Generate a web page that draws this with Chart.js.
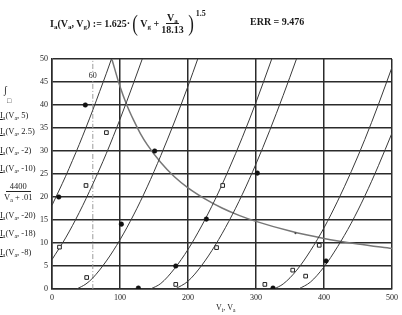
<!DOCTYPE html>
<html>
<head>
<meta charset="utf-8">
<script src="https://cdn.jsdelivr.net/npm/chart.js@4.4.1/dist/chart.umd.min.js"></script>
<style>
  body { margin: 0; background: #fff; }
  #wrap { position: relative; width: 402px; height: 315px; font-family: 'Liberation Serif', serif; color: #1a1a1a; }
  #wrap canvas { position: absolute; left: 0; top: 0; }
  .lbl { position: absolute; left: 0; font-size: 8.5px; white-space: nowrap; line-height: 9px; }
  .lbl .u { text-decoration: underline; }
  sub { font-size: 70%; vertical-align: -2px; line-height: 0; }
  #formula { position: absolute; left: 50px; top: 9px; font-size: 10px; font-weight: bold; white-space: nowrap; display: flex; align-items: center; }
  .frac { display: inline-flex; flex-direction: column; align-items: center; margin: 0 2px; line-height: 11px; }
  .frac .top { border-bottom: 1px solid #222; padding: 0 1px; }
  .paren { font-size: 24px; font-weight: normal; line-height: 28px; margin: 0 1px; transform: scaleX(0.7); }
  #err { position: absolute; left: 250px; top: 16px; font-size: 10px; font-weight: bold; white-space: nowrap; }
  #xtitle { position: absolute; left: 216px; top: 303px; font-size: 8px; white-space: nowrap; }
</style>
</head>
<body>
<div id="wrap">
  <canvas id="tube-chart" width="402" height="315"></canvas>

  <div id="formula">
    <span>I<sub>a</sub>(V<sub>a</sub>, V<sub>g</sub>) := 1.625·</span>
    <span class="paren">(</span>
    <span>V<sub>g</sub> +</span>
    <span class="frac"><span class="top">V<sub>a</sub></span><span>18.13</span></span>
    <span class="paren">)</span>
    <span style="align-self:flex-start;font-size:8px">1.5</span>
  </div>
  <div id="err">ERR = 9.476</div>

  <div class="lbl" style="left:4px;top:85px;font-size:10px">∫</div>
  <div class="lbl" style="left:7px;top:97px;font-size:7px">□</div>
  <div class="lbl" style="top:111px"><span class="u">I<sub>a</sub></span>(V<sub>a</sub>, 5)</div>
  <div class="lbl" style="top:127px"><span class="u">I<sub>a</sub></span>(V<sub>a</sub>, 2.5)</div>
  <div class="lbl" style="top:146px"><span class="u">I<sub>a</sub></span>(V<sub>a</sub>, -2)</div>
  <div class="lbl" style="top:164px"><span class="u">I<sub>a</sub></span>(V<sub>a</sub>, -10)</div>
  <div class="lbl" style="top:181px;left:2px"><span class="frac" style="line-height:10px"><span class="top" style="padding:0 4px">4400</span><span>V<sub>a</sub> + .01</span></span></div>
  <div class="lbl" style="top:211px"><span class="u">I<sub>a</sub></span>(V<sub>a</sub>, -20)</div>
  <div class="lbl" style="top:229px"><span class="u">I<sub>a</sub></span>(V<sub>a</sub>, -18)</div>
  <div class="lbl" style="top:248px"><span class="u">I<sub>a</sub></span>(V<sub>a</sub>, -8)</div>

  <div id="xtitle">V<sub>i</sub>, V<sub>a</sub></div>
</div>

<script>
// Curves: [Va, Ia]
const curveVg5 = [[0, 18.2], [10, 21.3], [20, 24.5], [30, 27.9], [40, 31.4], [50, 35.1], [60, 38.9], [70, 42.9], [80, 46.9], [87.4, 50]];
const curveVg2_5 = [[0, 6.4], [20, 11.1], [40, 16.6], [60, 22.8], [80, 29.5], [100, 36.9], [120, 44.8], [132.7, 50]];
const curveVgm2 = [[36.3, 0], [50, 1.1], [60, 2.4], [80, 6.1], [100, 10.7], [120, 16.1], [140, 22.2], [160, 29.0], [180, 36.3], [200, 44.1], [214.3, 50]];
const curveVgm8 = [[145, 0], [160, 1.2], [180, 4.4], [200, 8.6], [220, 13.7], [240, 19.5], [260, 26.0], [280, 33.0], [300, 40.6], [320, 48.7], [323.1, 50]];
const curveVgm10 = [[181.3, 0], [200, 1.7], [220, 5.1], [240, 9.5], [260, 14.7], [280, 20.6], [300, 27.2], [320, 34.4], [340, 42.1], [359.5, 50]];
const curveVgm18 = [[326.3, 0], [340, 1.1], [360, 4.1], [380, 8.3], [400, 13.3], [420, 19.1], [440, 25.5], [460, 32.5], [480, 40.1], [500, 48.2]];
const curveVgm20 = [[362.6, 0], [380, 1.5], [400, 4.8], [420, 9.2], [440, 14.3], [460, 20.2], [480, 26.8], [500, 33.9]];
const powerLimit = [[88, 50], [100, 44], [110, 40], [120, 36.7], [130, 33.8], [140, 31.4], [160, 27.5], [180, 24.4], [200, 22], [225, 19.6], [250, 17.6], [275, 16], [300, 14.7], [350, 12.6], [400, 11], [450, 9.8], [500, 8.8]];
const markerLine = [[60, 0], [60, 50]];

// measured points
const dotPoints = [[49, 40], [151, 30], [302, 25.2], [10, 20], [102, 14.1], [127, 0.2], [182, 5], [227, 15.2], [403, 6.1], [325, 0.2]];
const squarePoints = [[80, 34], [50, 22.5], [11, 9.1], [51, 2.5], [182, 1], [251, 22.5], [242, 9], [393, 9.5], [354, 4.1], [373, 2.8], [313, 1]];
const tinyPoints = [[358, 12.1]];

const xTicks = [0, 100, 200, 300, 400, 500];
const yTicks = [0, 5, 10, 15, 20, 25, 30, 35, 40, 45, 50];

const toXY = arr => arr.map(p => ({ x: p[0], y: p[1] }));
const inkColor = '#2b2b2b';

function curve(data, color, width) {
    return {
        data: toXY(data),
        showLine: true,
        borderColor: color,
        borderWidth: width,
        pointRadius: 0,
        cubicInterpolationMode: 'monotone',
        fill: false
    };
}

// text "60" on the dashed line
const markerText = {
    id: 'markerText',
    afterDatasetsDraw(chart) {
        const ctx = chart.ctx;
        const x = chart.scales.x.getPixelForValue(60);
        const y = chart.scales.y.getPixelForValue(46.3);
        ctx.save();
        ctx.fillStyle = '#fff';
        ctx.fillRect(x - 5, y - 4, 10, 8);
        ctx.fillStyle = '#222';
        ctx.font = '8px "Liberation Serif"';
        ctx.textAlign = 'center';
        ctx.textBaseline = 'middle';
        ctx.fillText('60', x, y);
        ctx.restore();
    }
};

const ctx = document.getElementById('tube-chart').getContext('2d');
new Chart(ctx, {
    type: 'scatter',
    data: {
        datasets: [
            {
                data: toXY(dotPoints),
                pointStyle: 'circle',
                pointRadius: 2.3,
                backgroundColor: '#111',
                borderColor: '#111',
                borderWidth: 0.5
            },
            {
                data: toXY(squarePoints),
                pointStyle: 'rect',
                pointRadius: 2.6,
                backgroundColor: '#fff',
                borderColor: '#222',
                borderWidth: 1
            },
            {
                data: toXY(tinyPoints),
                pointStyle: 'circle',
                pointRadius: 1,
                backgroundColor: '#444',
                borderWidth: 0
            },
            curve(curveVg5, '#3a3a3a', 1),
            curve(curveVg2_5, '#3a3a3a', 1),
            curve(curveVgm2, '#3a3a3a', 1),
            curve(curveVgm8, '#3a3a3a', 1),
            curve(curveVgm10, '#3a3a3a', 1),
            curve(curveVgm18, '#3a3a3a', 1),
            curve(curveVgm20, '#3a3a3a', 1),
            curve(powerLimit, '#777777', 1.5),
            Object.assign(curve(markerLine, '#9a9a9a', 1), { borderDash: [5, 2, 1, 2] })
        ]
    },
    options: {
        responsive: false,
        animation: false,
        devicePixelRatio: 1,
        layout: { padding: { top: 59, right: 5, bottom: 0, left: 0 } },
        plugins: {
            legend: { display: false },
            tooltip: { enabled: false }
        },
        scales: {
            x: {
                type: 'linear',
                min: 0,
                max: 500,
                afterFit: scale => { scale.height = 26; },
                afterBuildTicks: scale => { scale.ticks = xTicks.map(v => ({ value: v })); },
                ticks: {
                    padding: 4,
                    color: '#222',
                    font: { family: 'Liberation Serif', size: 8 }
                },
                grid: { color: inkColor, lineWidth: 1.5, drawTicks: false },
                border: { color: inkColor, width: 1.5 }
            },
            y: {
                min: 0,
                max: 50,
                afterFit: scale => { scale.width = 52; },
                afterBuildTicks: scale => { scale.ticks = yTicks.map(v => ({ value: v })); },
                ticks: {
                    padding: 4,
                    color: '#222',
                    font: { family: 'Liberation Serif', size: 8 }
                },
                grid: { color: inkColor, lineWidth: 1.5, drawTicks: false },
                border: { color: inkColor, width: 1.5 }
            }
        }
    },
    plugins: [markerText]
});
</script>
</body>
</html>
